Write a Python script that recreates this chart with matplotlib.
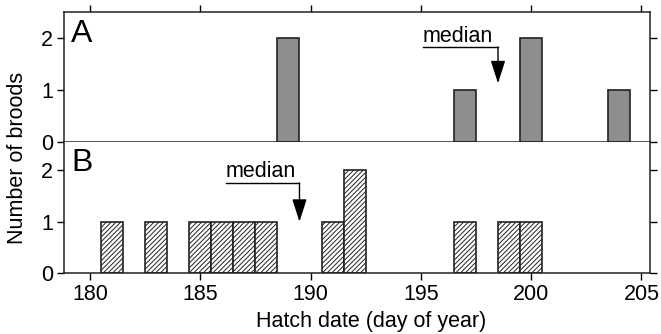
import matplotlib
matplotlib.use("Agg")
import matplotlib.pyplot as plt
import matplotlib as mpl

mpl.rcParams['font.family'] = ['Liberation Sans', 'DejaVu Sans']
mpl.rcParams['hatch.linewidth'] = 0.7
mpl.rcParams['hatch.color'] = '#222222'

# Dane: dzien wyklucia i liczba legow
days_a = [189, 197, 200, 204]
broods_a = [2, 1, 2, 1]
days_b = [181, 183, 185, 186, 187, 188, 191, 192, 197, 199, 200]
broods_b = [1, 1, 1, 1, 1, 1, 1, 2, 1, 1, 1]
median_a = 198.5
median_b = 189.5
xticks = [180, 185, 190, 195, 200, 205]
yticks = [0, 1, 2]

fig = plt.figure(figsize=(6.61, 3.34), dpi=100)
left, right = 0.097, 0.983
ax_a = fig.add_axes([left, 0.5757, right - left, 0.963 - 0.5757])
ax_b = fig.add_axes([left, 0.1817, right - left, 0.5757 - 0.1817])

ax_a.bar(days_a, broods_a, width=1.0, color='#8e8e90', edgecolor='#222222', linewidth=1.2)
ax_b.bar(days_b, broods_b, width=1.0, color='white', edgecolor='#222222', linewidth=1.2, hatch='///////')

for ax in (ax_a, ax_b):
    ax.set_xlim(178.83, 205.38)
    ax.set_ylim(0, 2.5)
    ax.set_xticks(xticks)
    ax.set_yticks(yticks)
    ax.tick_params(direction='out', length=5, width=1, labelsize=15.5,
                   top=True, right=True, pad=3)
    for s in ax.spines.values():
        s.set_linewidth(1.1)
        s.set_color('#222222')

ax_a.tick_params(labelbottom=False)
ax_b.spines['top'].set_visible(False)
ax_b.tick_params(top=False)
ax_b.set_ylim(0, 2.55)

ax_a.text(0.012, 0.95, 'A', transform=ax_a.transAxes, fontsize=23, va='top', ha='left')
ax_b.text(0.012, 0.95, 'B', transform=ax_b.transAxes, fontsize=23, va='top', ha='left')

# Strzalki mediany
def median_arrow(ax, xm, text_x, line_y, tip_y):
    ax.text(text_x, line_y + 0.01, 'median', fontsize=15.5, ha='left', va='bottom')
    ax.plot([text_x, xm], [line_y, line_y], color='black', lw=1.0)
    ax.annotate('', xy=(xm, tip_y), xytext=(xm, line_y),
                arrowprops=dict(arrowstyle='-|>,head_length=1.4,head_width=0.45',
                                color='black', lw=1.0, shrinkA=0, shrinkB=0))

median_arrow(ax_a, median_a, 195.1, 1.83, 1.13)
median_arrow(ax_b, median_b, 186.15, 1.75, 1.0)

fig.text(0.027, 0.527, 'Number of broods', rotation=90, fontsize=15.5, ha='center', va='center')
fig.text(0.562, 0.037, 'Hatch date (day of year)', fontsize=15.5, ha='center', va='center')

fig.savefig('out.png', dpi=100)
